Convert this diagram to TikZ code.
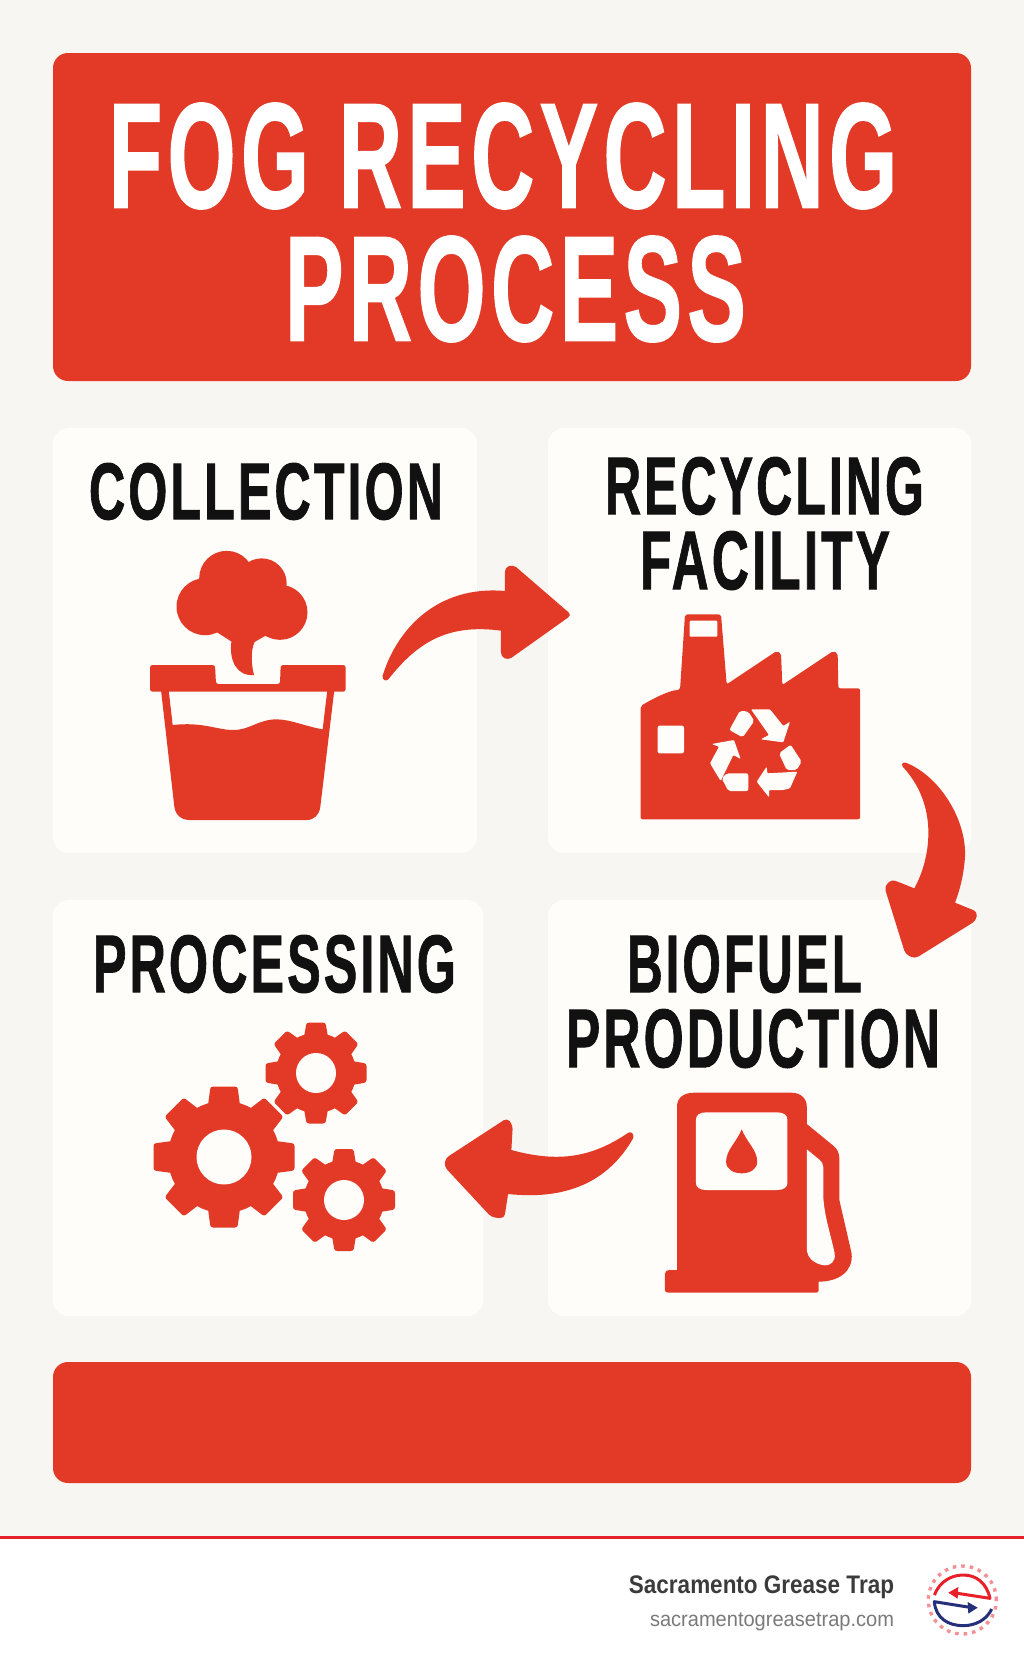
\documentclass[tikz,border=0pt]{standalone}
\usepackage{fontspec}
\usepackage{graphicx}
\setmainfont{Liberation Sans}
\newfontfamily\headfont[LetterSpace=6,BoldFeatures={FakeBold=1.2}]{Liberation Sans}
\newfontfamily\footfont{Liberation Sans}
\definecolor{pagebg}{HTML}{F8F6F2}
\definecolor{cardbg}{HTML}{FEFDFA}
\definecolor{brandred}{HTML}{E33A27}
\definecolor{inkblack}{HTML}{111111}
\definecolor{linered}{HTML}{E8202A}
\definecolor{logoblue}{HTML}{26307A}
\tikzset{
  panel/.style={fill=cardbg,rounded corners=16pt},
  banner/.style={fill=brandred,rounded corners=15pt},
  icon/.style={fill=brandred},
  knock/.style={fill=cardbg},
  zoomA/.style={shift={(130pt,-530pt)},x=0.33333pt,y=-0.33333pt},
  zoomB/.style={shift={(620pt,-600pt)},x=0.33333pt,y=-0.33333pt},
  zoomC/.style={shift={(140pt,-1010pt)},x=0.47189pt,y=-0.33333pt},
  zoomD/.style={shift={(915pt,-1555pt)},x=0.33333pt,y=-0.33333pt},
}
% name, x0, y0, x1, y1, colour, font, text: text fitted exactly into the box
\newcommand{\fitlabel}[8]{%
  \pgfmathsetmacro\fitW{#4-#2}%
  \pgfmathsetmacro\fitH{#5-#3}%
  \node[inner sep=0pt,outer sep=0pt,text=#6] (#1) at ({(#2+#4)/2},{(#3+#5)/2})
    {\resizebox*{\fitW pt}{\fitH pt}{#7#8}};}
\newcommand{\gearicon}[7]{% cx cy outer root hole halfwidth(base) halfwidth(top)
  \begin{scope}[shift={(#1pt,-#2pt)},x=1pt,y=1pt]
    \fill[icon] (0,0) circle (#4);
    \foreach \gearang in {0,45,...,315}{
      \fill[icon,rotate=\gearang,rounded corners=2.5pt]
        (#4-4,-#6) -- (#3,-#7) -- (#3,#7) -- (#4-4,#6) -- cycle;
    }
    \fill[knock] (0,0) circle (#5);
  \end{scope}}
\begin{document}
\begin{tikzpicture}[x=1pt,y=-1pt]
\useasboundingbox (0,0) rectangle (1024,1666);
\fill[pagebg] (0,0) rectangle (1024,1537);
\fill[white] (0,1537) rectangle (1024,1666);
\fill[linered] (0,1535.5) rectangle (1024,1538.5);

\fill[banner] (53,53) rectangle (971,381);
\fill[panel] (53,428) rectangle (477,853);
\fill[panel] (548,428) rectangle (971,853);
\fill[panel] (53,900) rectangle (483,1316);
\fill[panel] (548,900) rectangle (971,1316);
\fill[banner] (53,1362) rectangle (971,1483);

\fitlabel{titleA}{109}{103}{897}{209}{white}{\headfont\bfseries}{FOG RECYCLING}
\fitlabel{titleB}{285}{236}{746}{342}{white}{\headfont\bfseries}{PROCESS}
\fitlabel{collect}{89}{463}{443}{520}{inkblack}{\headfont\bfseries}{COLLECTION}
\fitlabel{recycA}{605}{457}{924}{515}{inkblack}{\headfont\bfseries}{RECYCLING}
\fitlabel{recycB}{640}{531}{890}{590}{inkblack}{\headfont\bfseries}{FACILITY}
\fitlabel{proc}{93}{935}{456}{993}{inkblack}{\headfont\bfseries}{PROCESSING}
\fitlabel{biofA}{627}{935}{862}{993}{inkblack}{\headfont\bfseries}{BIOFUEL}
\fitlabel{biofB}{566}{1009}{940}{1068}{inkblack}{\headfont\bfseries}{PRODUCTION}

% collection pot
\begin{scope}[zoomA]
  \fill[icon] (225,230) circle (28.5pt);
  \fill[icon] (290,145) circle (27.5pt);
  \fill[icon] (395,160) circle (25pt);
  \fill[icon] (450,247) circle (27.5pt);
  \fill[icon] (225,230) -- (290,145) -- (395,160) -- (450,247) -- (450,328) -- (405,318) -- (375,335)
     -- (305,335) -- (258,305) -- (225,315) -- cycle;
  \fill[icon] (305,330) .. controls (295,390) and (320,440) .. (372,435)
     .. controls (360,390) and (365,345) .. (378,330) -- cycle;
  \fill[icon,rounded corners=2.5pt] (60,405) -- (255,405) -- (258,462) -- (450,462) -- (452,405)
     -- (647,405) -- (647,485) -- (60,485) -- cycle;
  \fill[icon] (93,480) -- (133,830) .. controls (136,855) and (155,870) .. (175,870) -- (530,870)
     .. controls (552,870) and (568,855) .. (571,830) -- (613,480) -- (592,480) -- (578,598)
     .. controls (530,590) and (480,568) .. (440,568)
     .. controls (385,568) and (360,600) .. (310,600)
     .. controls (260,600) and (220,575) .. (128,585) -- (116,480) -- cycle;
  % arrow collection to facility
  \fill[icon] (758,437) .. controls (800,300) and (920,165) .. (1125,183)
     [rounded corners=4pt] -- (1125,112) -- (1150,104) -- (1325,255) -- (1135,390) -- (1113,380) [sharp corners]
     -- (1113,302) .. controls (950,280) and (860,340) .. (775,448)
     .. controls (768,455) and (755,450) .. (758,437) -- cycle;
\end{scope}

% factory
\begin{scope}[zoomB]
  \fill[icon,rounded corners=2pt] (62,318) .. controls (100,295) and (150,270) .. (180,270)
     -- (195,43) -- (303,43) -- (320,253) -- (470,153) -- (483,160) -- (487,255) -- (640,153)
     -- (653,160) -- (655,265) -- (720,265) -- (720,658) -- (62,658) -- cycle;
  \fill[knock,rounded corners=1pt] (209,62) -- (292,62) -- (292,110) -- (209,110) -- cycle;
  \fill[knock,rounded corners=2pt] (113,377) -- (192,377) -- (192,460) -- (113,460) -- cycle;
  \fill[knock,rounded corners=2pt] (360,332) -- (385,335) -- (403,363) -- (368,412) -- (328,390) -- cycle;
  \fill[knock,rounded corners=1pt] (393,328) -- (450,328) -- (490,378) -- (510,365) -- (490,427) -- (422,418) -- (447,405) -- cycle;
  \fill[knock,rounded corners=2pt] (477,460) -- (512,434) -- (545,485) -- (530,510) -- (500,510) -- cycle;
  \fill[knock,rounded corners=1pt] (532,515) -- (510,565) -- (490,570) -- (447,570) -- (447,592) -- (410,545) -- (440,500) -- (442,520) -- cycle;
  \fill[knock,rounded corners=2pt] (305,535) -- (320,520) -- (385,520) -- (385,573) -- (325,573) -- cycle;
  \fill[knock,rounded corners=1pt] (275,432) -- (342,420) -- (362,477) -- (340,465) -- (302,543) -- (270,490) -- (297,440) -- cycle;
  % arrow facility to biofuel
  \fill[icon] (848,500) .. controls (843,490) and (850,485) .. (860,489)
     .. controls (960,530) and (1040,660) .. (1035,770) .. controls (1032,820) and (1020,870) .. (1005,908)
     [rounded corners=4pt] -- (1072,935) -- (1068,962) -- (885,1076) -- (856,1062) -- (793,860) -- (815,838) [sharp corners]
     -- (883,865) .. controls (930,780) and (960,620) .. (848,500) -- cycle;
\end{scope}

% gears
\gearicon{224}{1157}{70.5}{56}{27.5}{16}{13.5}
\gearicon{316}{1073}{50.5}{40}{20}{12}{9.5}
\gearicon{344}{1200}{51}{40}{20}{12}{9.5}

% pump and arrow
\begin{scope}[zoomC]
  \fill[icon] (1045,385) .. controls (990,520) and (900,570) .. (780,552)
     [rounded corners=4pt] -- (772,625) -- (745,622) -- (645,470) -- (647,445) -- (778,324) -- (790,345) [sharp corners]
     -- (787,420) .. controls (890,460) and (960,440) .. (1035,368)
     .. controls (1042,362) and (1048,375) .. (1045,385) -- cycle;
  \fill[icon] (1138,780) -- (1138,290) .. controls (1138,265) and (1150,248) .. (1175,248) -- (1380,248)
     .. controls (1400,248) and (1413,265) .. (1413,290) -- (1413,342) -- (1470,408)
     .. controls (1478,418) and (1482,430) .. (1482,445) -- (1482,570) -- (1508,730)
     .. controls (1512,785) and (1480,815) .. (1438,815) -- (1438,842) .. controls (1438,846) and (1436,848) .. (1432,848)
     -- (1120,848) .. controls (1115,848) and (1112,845) .. (1112,840) -- (1112,792) .. controls (1112,785) and (1116,780) .. (1125,780) -- cycle;
  \fill[knock] (1413,418) -- (1438,447) .. controls (1445,455) and (1448,462) .. (1448,472) -- (1448,560)
     .. controls (1450,620) and (1465,680) .. (1472,730) .. controls (1475,755) and (1462,768) .. (1450,766)
     .. controls (1430,762) and (1413,745) .. (1413,715) -- cycle;
  \fill[knock] (1178,330) .. controls (1178,315) and (1186,307) .. (1200,307) -- (1350,307)
     .. controls (1364,307) and (1372,315) .. (1372,330) -- (1372,518)
     .. controls (1372,532) and (1364,540) .. (1350,540) -- (1200,540)
     .. controls (1186,540) and (1178,532) .. (1178,518) -- cycle;
  \fill[icon] (1275,358) .. controls (1285,395) and (1308,420) .. (1308,455)
     .. controls (1308,478) and (1292,490) .. (1275,490)
     .. controls (1258,490) and (1242,478) .. (1242,455)
     .. controls (1242,420) and (1265,395) .. (1275,358) -- cycle;
\end{scope}

% footer text
\fitlabel{brand}{629}{1576}{894}{1599}{black!77}{\footfont\bfseries}{Sacramento Grease Trap}
\fitlabel{site}{650}{1613}{894}{1631}{black!52}{\footfont}{sacramentogreasetrap.com}

% logo
\begin{scope}[zoomD]
  \draw[linered!50,line width=3.4pt,dash pattern=on 3.5pt off 5pt] (142,135) circle (34pt);
  \draw[linered,line width=3pt,line join=round] (58,120) .. controls (75,78) and (110,60) .. (145,60)
     .. controls (185,60) and (215,85) .. (225,130) -- (115,113);
  \fill[linered] (100,113) -- (130,96) -- (128,131) -- cycle;
  \draw[logoblue,line width=3pt,line join=round] (165,157) -- (58,140)
     .. controls (62,190) and (100,212) .. (145,212) .. controls (180,212) and (215,195) .. (230,162);
  \fill[logoblue] (188,158) -- (158,141) -- (160,176) -- cycle;
\end{scope}
\end{tikzpicture}
\end{document}
